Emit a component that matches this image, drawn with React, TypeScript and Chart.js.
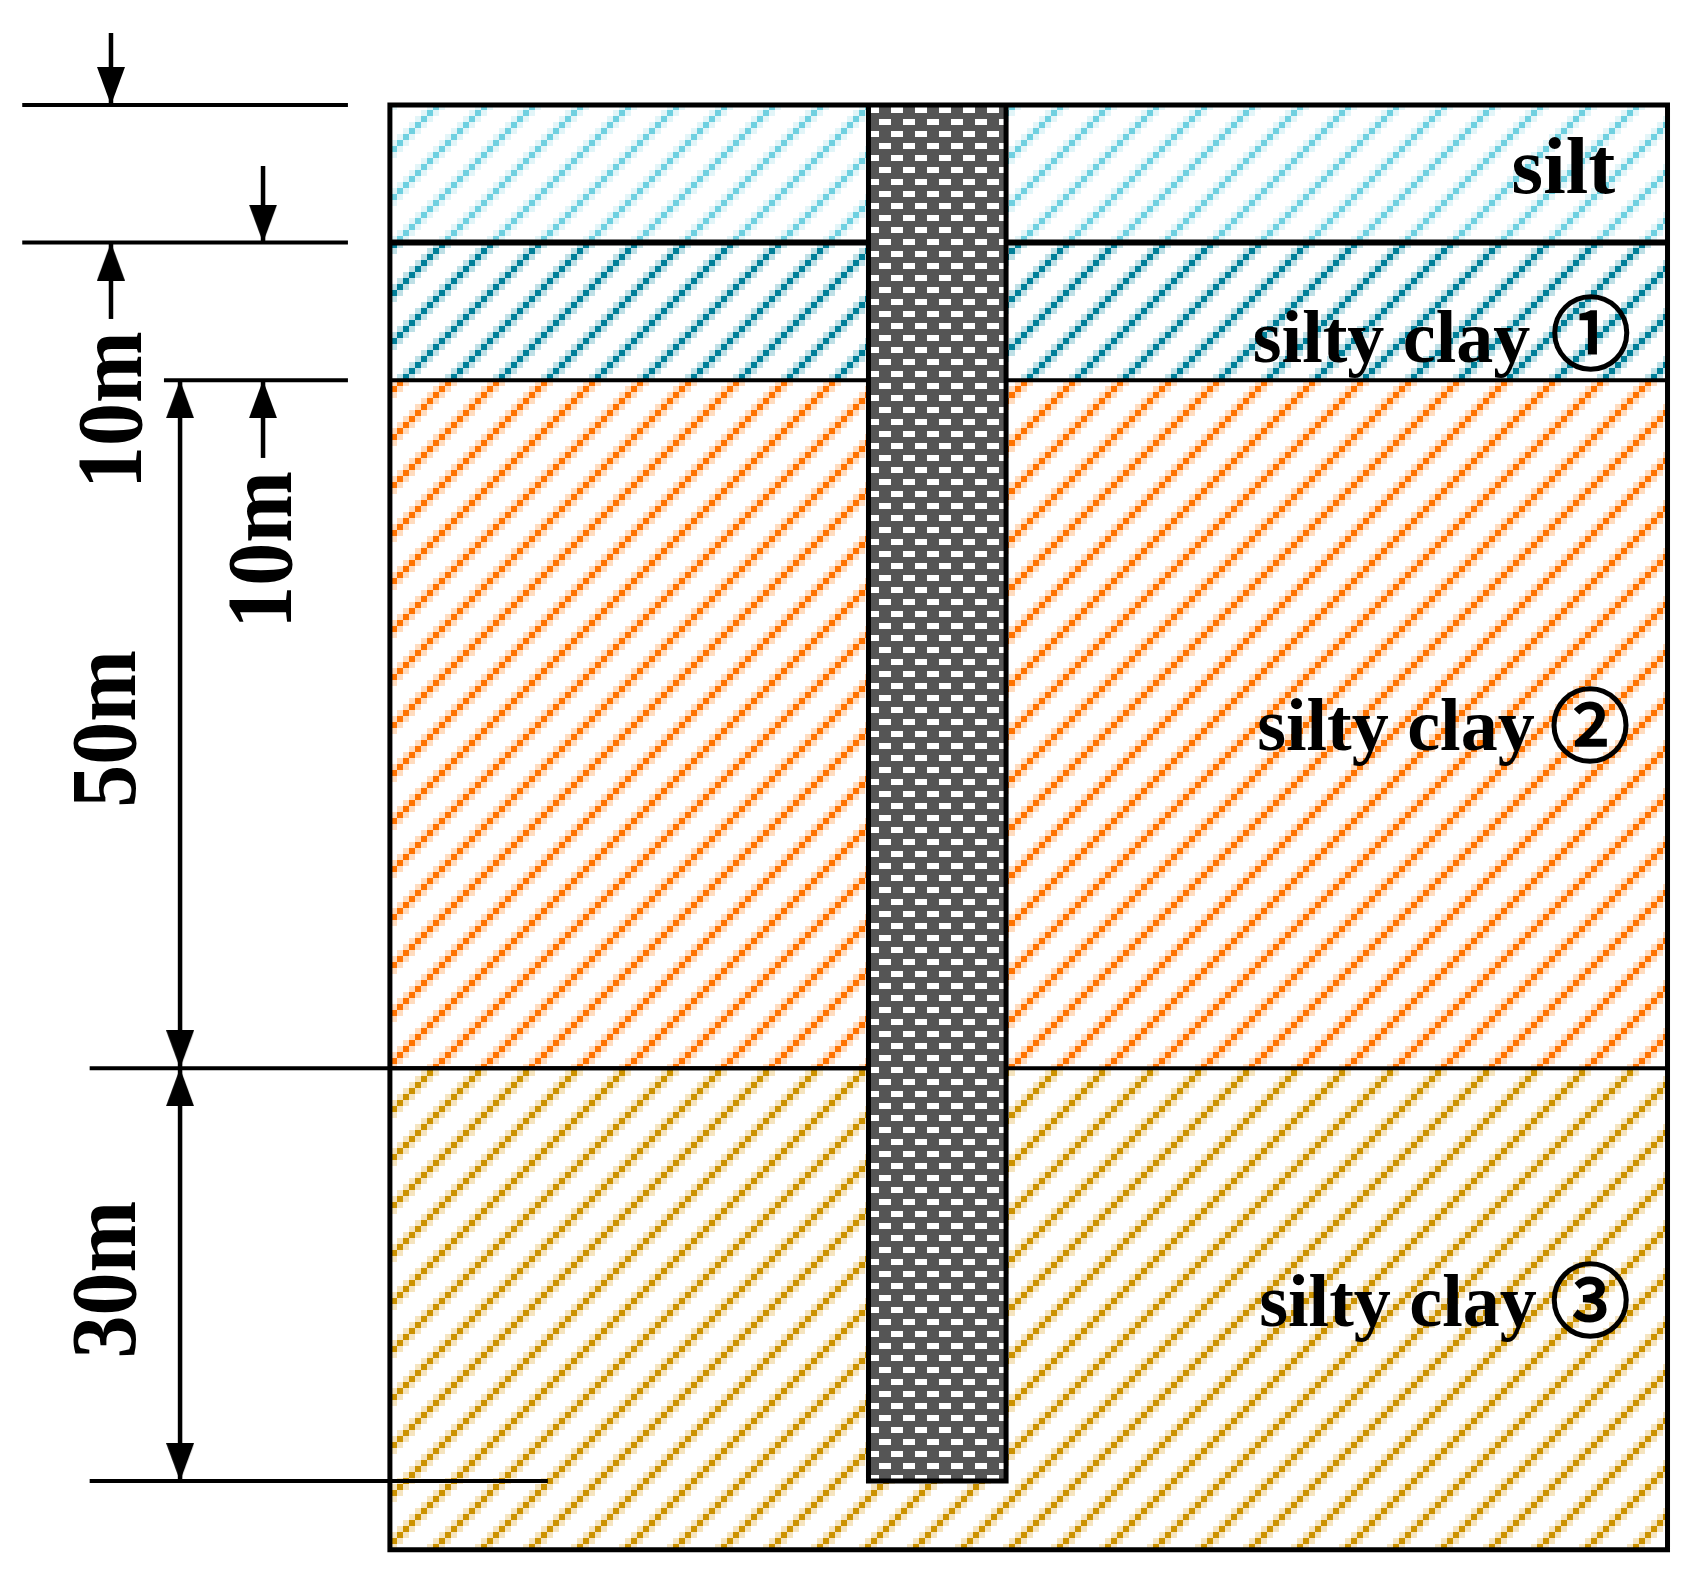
import { useRef, useEffect } from "react";
import { Chart, registerables } from "chart.js";

Chart.register(...registerables);

// everything below is in metres: x from the left edge of the section, y is depth
const depthBoundaries = [0, 10, 20, 70, 105];
const sectionLeft = -0.08;
const sectionWidth = 92.77;
const pileLeft = 34.7;
const pileRight = 44.7;
const pileToe = 100;

const layerNames = ["silt", "silty clay", "silty clay", "silty clay"];
const layerMarks = ["", "①", "②", "③"];
const layerNameX = [81.44, 62.63, 62.95, 63.1];
const layerNameDepth = [6.4, 18.68, 46.9, 88.7];
const layerMarkX = [0, 87.2, 87.13, 87.15];
const layerMarkDepth = [0, 16.57, 45.05, 86.85];

const dimLabels = ["10m", "10m", "50m", "30m"];
const dimLabelX = [-18.15, -7.27, -18.6, -18.6];
const dimLabelDepth = [22.18, 32.33, 45.35, 85.37];

// witness lines: from x, to x, depth
const tickFrom = [-26.8, -26.8, -16.5, -21.9, -21.9];
const tickTo = [-3.13, -3.13, -3.13, pileLeft, 11.4];
const tickDepth = [0, 10, 20, 70, 100];

// arrow stems: x, tail depth, tip depth
const stemX = [-20.35, -9.3, -20.35, -9.3, -15.33, -15.33];
const stemFrom = [-5.23, 4.43, 15.55, 25.65, 20, 70];
const stemTo = [0, 10, 10, 20, 70, 100];

// arrow heads: x, tip depth, direction
const headX = [-20.35, -9.3, -20.35, -9.3, -15.33, -15.33, -15.33, -15.33];
const headDepth = [0, 10, 10, 20, 20, 70, 70, 100];
const headRotation = [0, 0, 180, 180, 180, 0, 180, 0];

const HATCH = [
  { dark: "#6FD0E0", light: "#E2F5F8" },
  { dark: "#007F99", light: "#BFE0E6" },
  { dark: "#FF7300", light: "#FFDCBF" },
  { dark: "#CC9200", light: "#F5E4BF" },
];
const SEPARATOR_WIDTH = [6, 4, 4];
const LAYER_FONT = [81, 74, 74, 74];
const SERIF = "'Liberation Serif', 'Times New Roman', serif";

function hatchPattern(ctx: CanvasRenderingContext2D, dark: string, light: string) {
  const tile = document.createElement("canvas");
  tile.width = 48;
  tile.height = 48;
  const t = tile.getContext("2d")!;
  const cell = (x: number, y: number, color: string) => {
    t.fillStyle = color;
    for (const dx of [-48, 0, 48]) {
      for (const dy of [-48, 0, 48]) t.fillRect(x + dx, y + dy, 6, 6);
    }
  };
  for (let i = 0; i < 8; i++) {
    const x = 1 + 6 * i;
    const y = 8 - 6 * i;
    cell(x - 6, y, light);
    cell(x + 6, y, light);
  }
  for (let i = 0; i < 8; i++) cell(1 + 6 * i, 8 - 6 * i, dark);
  return ctx.createPattern(tile, "repeat")!;
}

function pilePattern(ctx: CanvasRenderingContext2D) {
  const tile = document.createElement("canvas");
  tile.width = 24;
  tile.height = 24;
  const t = tile.getContext("2d")!;
  t.fillStyle = "#555555";
  t.fillRect(0, 0, 24, 24);
  t.fillStyle = "#FFFFFF";
  t.fillRect(3, 11, 12, 6);
  t.fillRect(15, 23, 12, 6);
  t.fillRect(-9, 23, 12, 6);
  t.fillRect(15, -1, 12, 6);
  t.fillRect(-9, -1, 12, 6);
  return ctx.createPattern(tile, "repeat")!;
}

// tip sits at the canvas centre so that the point lands on the tip
function arrowHead() {
  const c = document.createElement("canvas");
  c.width = 28;
  c.height = 76;
  const t = c.getContext("2d")!;
  t.fillStyle = "#000";
  t.beginPath();
  t.moveTo(0, 0);
  t.lineTo(28, 0);
  t.lineTo(14, 38);
  t.closePath();
  t.fill();
  return c;
}

const labelsPlugin = {
  id: "sectionLabels",
  afterDatasetsDraw(chart: any) {
    const { ctx, scales } = chart;
    const px = (v: number) => scales.x.getPixelForValue(v);
    const py = (v: number) => scales.y.getPixelForValue(v);
    ctx.save();
    ctx.fillStyle = "#000";
    ctx.strokeStyle = "#000";
    ctx.textBaseline = "alphabetic";
    layerNames.forEach((name, i) => {
      ctx.textAlign = "left";
      ctx.font = `bold ${LAYER_FONT[i]}px ${SERIF}`;
      ctx.fillText(name, px(layerNameX[i]), py(layerNameDepth[i]));
    });
    layerMarks.forEach((mark, i) => {
      if (!mark) return;
      ctx.textAlign = "center";
      ctx.textBaseline = "middle";
      ctx.font = "normal 80px 'Noto Sans CJK SC'";
      ctx.lineWidth = 2.5;
      ctx.fillText(mark, px(layerMarkX[i]), py(layerMarkDepth[i]));
      ctx.strokeText(mark, px(layerMarkX[i]), py(layerMarkDepth[i]));
      ctx.textBaseline = "alphabetic";
    });
    dimLabels.forEach((label, i) => {
      ctx.save();
      ctx.translate(px(dimLabelX[i]), py(dimLabelDepth[i]));
      ctx.rotate(-Math.PI / 2);
      ctx.scale(1, 1.08);
      ctx.textAlign = "center";
      ctx.font = `bold 86px ${SERIF}`;
      ctx.fillText(label, 0, 0);
      ctx.restore();
    });
    ctx.restore();
  },
};

function strokeSet(points: { x: number; y: number | null }[], width: number) {
  return {
    data: points,
    showLine: true,
    borderColor: "#000",
    borderWidth: width,
    pointRadius: 0,
    fill: false,
    borderJoinStyle: "miter",
    spanGaps: false,
  };
}

function boundarySet(x0: number, x1: number, depth: number, fill: any, bg: any) {
  return {
    data: [
      { x: x0, y: depth },
      { x: x1, y: depth },
    ],
    showLine: true,
    borderColor: "transparent",
    borderWidth: 0,
    pointRadius: 0,
    fill,
    backgroundColor: bg,
  };
}

export default function App() {
  const canvasRef = useRef<HTMLCanvasElement>(null);
  const chartRef = useRef<Chart | null>(null);

  useEffect(() => {
    if (!canvasRef.current) return;
    const ctx = canvasRef.current.getContext("2d")!;
    const datasets: any[] = [];

    // first dataset ends up on top
    datasets.push({
      data: headX.map((x, i) => ({ x, y: headDepth[i] })),
      showLine: false,
      pointStyle: arrowHead(),
      pointRadius: 10,
      pointRotation: headRotation,
      fill: false,
    });
    stemX.forEach((x, i) => {
      datasets.push(
        strokeSet(
          [
            { x, y: stemFrom[i] },
            { x, y: stemTo[i] },
          ],
          4.5
        )
      );
    });
    tickFrom.forEach((from, i) => {
      datasets.push(
        strokeSet(
          [
            { x: from, y: tickDepth[i] },
            { x: tickTo[i], y: tickDepth[i] },
          ],
          4
        )
      );
    });
    // outline starts mid edge so that every corner gets a proper join
    datasets.push(
      strokeSet(
        [
          { x: pileLeft, y: 0 },
          { x: sectionWidth, y: 0 },
          { x: sectionWidth, y: depthBoundaries[4] },
          { x: sectionLeft, y: depthBoundaries[4] },
          { x: sectionLeft, y: 0 },
          { x: pileLeft, y: 0 },
        ],
        5
      )
    );
    datasets.push(
      strokeSet(
        [
          { x: pileLeft, y: 0 },
          { x: pileLeft, y: pileToe },
          { x: pileRight, y: pileToe },
          { x: pileRight, y: 0 },
        ],
        5
      )
    );
    depthBoundaries.slice(1, 4).forEach((d, i) => {
      datasets.push(
        strokeSet(
          [
            { x: sectionLeft, y: d },
            { x: pileLeft, y: d },
            { x: pileLeft, y: null },
            { x: pileRight, y: d },
            { x: sectionWidth, y: d },
          ],
          SEPARATOR_WIDTH[i]
        )
      );
    });

    const pile = pilePattern(ctx);
    datasets.push(boundarySet(pileLeft, pileRight, 0, "+1", pile));
    datasets.push(boundarySet(pileLeft, pileRight, pileToe, false, "transparent"));

    depthBoundaries.forEach((d, i) => {
      const last = i === depthBoundaries.length - 1;
      const bg = last ? "transparent" : hatchPattern(ctx, HATCH[i].dark, HATCH[i].light);
      datasets.push(boundarySet(sectionLeft, sectionWidth, d, last ? false : "+1", bg));
    });

    chartRef.current = new Chart(canvasRef.current, {
      type: "scatter",
      data: { datasets },
      options: {
        animation: false,
        responsive: false,
        devicePixelRatio: 1,
        events: [],
        layout: { padding: 0, autoPadding: false },
        plugins: {
          legend: { display: false },
          tooltip: { enabled: false },
          filler: { drawTime: "beforeDatasetsDraw" },
        },
        scales: {
          x: { type: "linear", display: false, min: -28.416, max: 94.404 },
          y: { type: "linear", display: false, reverse: true, min: -7.63, max: 107.92 },
        },
      } as any,
      plugins: [labelsPlugin],
    });

    return () => {
      if (chartRef.current) {
        chartRef.current.destroy();
        chartRef.current = null;
      }
    };
  }, []);

  return (
    <div style={{ position: "absolute", left: 0, top: 0, width: 1690, height: 1590, background: "#fff" }}>
      <canvas ref={canvasRef} width={1690} height={1590} style={{ display: "block" }} />
    </div>
  );
}
